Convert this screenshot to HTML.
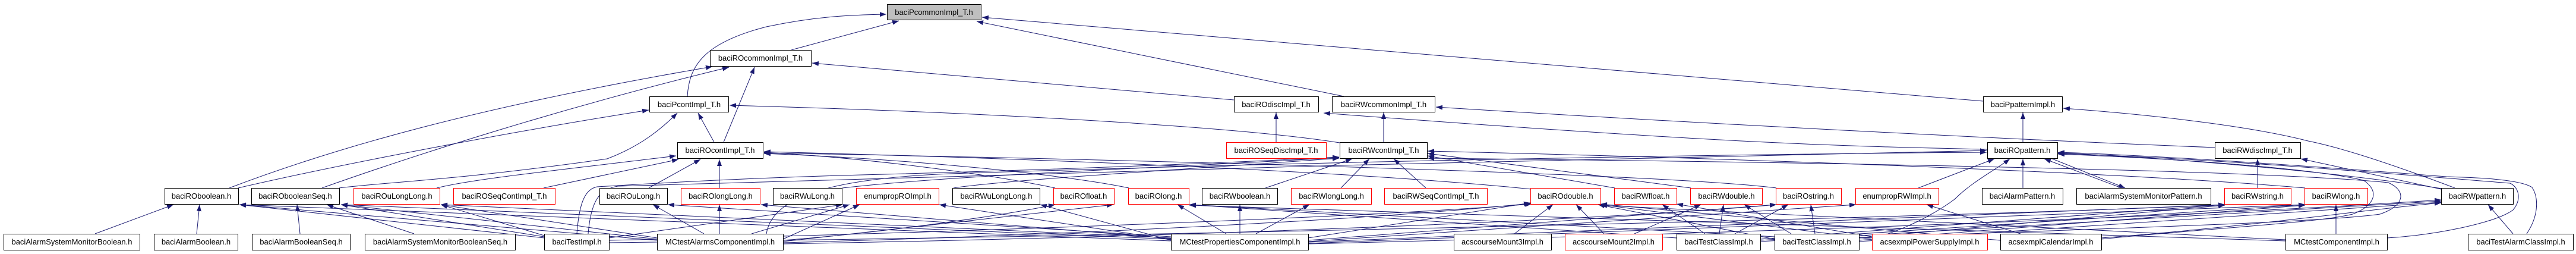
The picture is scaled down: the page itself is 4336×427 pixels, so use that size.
<!DOCTYPE html>
<html><head><meta charset="utf-8"><style>
html,body{margin:0;padding:0;background:#fff;}
svg{display:block;}
.e{fill:none;stroke:#191970;stroke-width:1;marker-end:url(#ah);}
.n{fill:#fff;stroke:#000;stroke-width:1;}
.r{fill:#fff;stroke:#ff0000;stroke-width:1;}
.g{fill:#bfbfbf;stroke:#000;stroke-width:1;}
text{font-family:"Liberation Sans",Arial,sans-serif;font-size:13px;fill:#000;text-anchor:middle;}
</style></head><body>
<svg width="4336" height="427" viewBox="0 0 4336 427" xmlns="http://www.w3.org/2000/svg">
<defs>
<marker id="ah" viewBox="0 0 11 8" refX="11" refY="4" markerWidth="11" markerHeight="8" markerUnits="userSpaceOnUse" orient="auto"><path d="M0,0L11,4L0,8z" fill="#191970"/></marker>
</defs>
<rect width="4336" height="427" fill="#fff"/>
<g>
<!-- upper edges -->
<path class="e" d="M1157,162 C1160,110 1185,72 1290,45 C1370,28 1430,25 1492,24"/>
<path class="e" d="M1332,84 L1513,35"/>
<path class="e" d="M3338,170 L1653,29"/>
<path class="e" d="M2262,162 L1644,36"/>
<path class="e" d="M386,316 C560,250 800,180 1199,112"/>
<path class="e" d="M542,316 C700,260 950,180 1227,113"/>
<path class="e" d="M1218,239 L1270,113"/>
<path class="e" d="M2077,168 L1367,106"/>
<path class="e" d="M401,316 C600,270 900,215 1092,185"/>
<path class="e" d="M571,316 C650,306 760,304 1022,267 C1080,245 1115,215 1140,190"/>
<path class="e" d="M1202,239 L1175,190"/>
<path class="e" d="M2255,240 C2100,215 1700,190 1228,177"/>
<path class="e" d="M2148,239 L2148,189"/>
<path class="e" d="M2329,239 L2329,189"/>
<path class="e" d="M3728,248 C3400,235 2900,210 2417,180"/>
<path class="e" d="M3405,239 L3405,189"/>
<path class="e" d="M4132,316 C4050,285 3950,250 3885,237 C3800,215 3650,195 3473,182"/>
<path class="e" d="M3345,251 C3100,246 2900,241 2228,190"/>
<!-- row3/row4 -->
<path class="e" d="M735,316 C800,300 950,285 1138,262"/>
<path class="e" d="M915,316 L1142,268"/>
<path class="e" d="M1092,316 L1179,268"/>
<path class="e" d="M1211,316 L1211,268"/>
<path class="e" d="M1776,316 C1650,290 1450,265 1286,256"/>
<path class="e" d="M1900,316 C1800,295 1550,268 1286,258"/>
<path class="e" d="M2578,318 C2300,290 1800,268 1286,255"/>
<path class="e" d="M2990,316 C2800,292 1900,268 1286,257"/>
<path class="e" d="M1418,316 C1600,295 1900,285 2254,265"/>
<path class="e" d="M1605,316 C1700,302 1950,288 2254,266"/>
<path class="e" d="M971,393 C975,340 985,318 1005,314 C1150,305 1300,298 1450,294 C1800,285 2100,272 2254,264"/>
<path class="e" d="M990,393 C995,335 1010,318 1040,313 C1400,300 2800,262 3344,253"/>
<path class="e" d="M1290,393 C1300,330 1400,300 1600,292 C2200,272 2900,259 3344,256"/>
<path class="e" d="M2130,316 L2276,267"/>
<path class="e" d="M2257,316 L2305,267"/>
<path class="e" d="M2400,316 L2346,267"/>
<path class="e" d="M2718,316 L2403,262"/>
<path class="e" d="M2846,316 L2403,258"/>
<path class="e" d="M3880,316 C3600,292 3000,268 2403,254"/>
<path class="e" d="M3229,316 L3357,267"/>
<path class="e" d="M3405,316 L3405,267"/>
<path class="e" d="M3571,316 L3441,267"/>
<path class="e" d="M3452,266 L3577,316"/>
<path class="e" d="M3800,316 L3800,267"/>
<path class="e" d="M4109,318 L3873,267"/>
<path class="e" d="M4110,317 C3950,292 3700,268 3464,257"/>
<path class="e" d="M4253,393 C4275,360 4272,330 4262,315 C4240,300 4150,298 4118,297 C3900,280 3650,262 3464,256"/>
<path class="e" d="M4018,400 C4100,395 4200,375 4230,353 C4245,335 4240,315 4225,308 C4000,290 3700,265 3464,258"/>
<path class="e" d="M3537,402 C3700,385 3900,375 3960,360 C4000,345 4005,320 3978,303 C3900,285 3700,268 3464,259"/>
<path class="e" d="M3129,400 C3500,385 3900,375 4006,360 C4050,345 4050,320 4020,307 C3800,285 3000,272 2403,266"/>
<!-- row4/row5 -->
<path class="e" d="M160,393 L292,344"/>
<path class="e" d="M331,393 L336,344"/>
<path class="e" d="M505,393 L500,344"/>
<path class="e" d="M697,393 L550,344"/>
<path class="e" d="M916,400 L403,344"/>
<path class="e" d="M1106,404 L403,344"/>
<path class="e" d="M1971,405 L403,344"/>
<path class="e" d="M916,398 L574,344"/>
<path class="e" d="M1106,402 L574,344"/>
<path class="e" d="M1971,402 L574,344"/>
<path class="e" d="M916,396 L742,344"/>
<path class="e" d="M1106,400 L742,344"/>
<path class="e" d="M1971,400 L742,344"/>
<path class="e" d="M1185,393 L1099,344"/>
<path class="e" d="M1971,398 L1124,344"/>
<path class="e" d="M1211,393 L1211,344"/>
<path class="e" d="M1971,401 L1281,344"/>
<path class="e" d="M1025,400 L1418,344"/>
<path class="e" d="M1265,393 L1430,344"/>
<path class="e" d="M1318,402 L1447,344"/>
<path class="e" d="M1971,403 L1581,344"/>
<path class="e" d="M1971,404 L1751,344"/>
<path class="e" d="M1318,404 C1500,390 1700,360 1776,344"/>
<path class="e" d="M1318,406 L1874,344"/>
<path class="e" d="M2064,393 L1982,344"/>
<path class="e" d="M2087,393 L2087,344"/>
<path class="e" d="M2114,393 L2204,344"/>
<path class="e" d="M2822,400 L2002,344"/>
<path class="e" d="M2987,398 L2002,344"/>
<path class="e" d="M2202,400 L2576,341"/>
<path class="e" d="M1318,408 C1800,395 2300,370 2576,342"/>
<path class="e" d="M1025,404 C1600,392 2300,365 2578,343"/>
<path class="e" d="M2549,393 L2614,344"/>
<path class="e" d="M2700,393 L2653,344"/>
<path class="e" d="M2751,393 L2863,344"/>
<path class="e" d="M2870,393 L2798,344"/>
<path class="e" d="M2894,393 L2901,344"/>
<path class="e" d="M2920,393 L3010,344"/>
<path class="e" d="M3015,393 L2936,344"/>
<path class="e" d="M3055,393 L3048,344"/>
<path class="e" d="M3401,393 L3243,344"/>
<path class="e" d="M2987,402 L2690,344"/>
<path class="e" d="M3151,402 L2694,344"/>
<path class="e" d="M3367,404 L2694,343"/>
<path class="e" d="M3151,398 L2822,343"/>
<path class="e" d="M2202,404 L2990,344"/>
<path class="e" d="M1318,410 C2000,398 2700,370 2990,344"/>
<path class="e" d="M2202,406 L3124,344"/>
<path class="e" d="M2202,407 L3745,344"/>
<path class="e" d="M2963,402 L3745,344"/>
<path class="e" d="M3129,400 L3745,345"/>
<path class="e" d="M1025,408 C2000,396 3300,365 3745,344"/>
<path class="e" d="M2202,409 L3880,344"/>
<path class="e" d="M2963,404 L3880,344"/>
<path class="e" d="M3129,404 L3880,345"/>
<path class="e" d="M3932,393 L3932,344"/>
<path class="e" d="M2202,410 C2800,395 3600,370 4109,336"/>
<path class="e" d="M2963,406 L4109,338"/>
<path class="e" d="M3129,406 L4109,340"/>
<path class="e" d="M3537,400 C3800,380 4000,350 4109,341"/>
<path class="e" d="M4230,393 L4188,344"/>
<path class="e" d="M3847,403 L2694,345"/>
<path class="e" d="M3847,405 C3500,395 3000,375 2002,345"/>
<path class="e" d="M3178,393 C3230,375 3270,350 3290,335 C3320,305 3360,285 3383,267"/>
</g>
<g>
<!-- row0 -->
<rect class="g" x="1493.5" y="7.5" width="158" height="26"/><text x="1572" y="25">baciPcommonImpl_T.h</text>
<!-- row1 -->
<rect class="n" x="1195.5" y="84.5" width="170" height="27"/><text x="1280" y="102">baciROcommonImpl_T.h</text>
<!-- row2 -->
<rect class="n" x="1093.5" y="162.5" width="133" height="26"/><text x="1160" y="180">baciPcontImpl_T.h</text>
<rect class="n" x="2077.5" y="162.5" width="142" height="26"/><text x="2148" y="180">baciROdiscImpl_T.h</text>
<rect class="n" x="2242.5" y="162.5" width="173" height="26"/><text x="2329" y="180">baciRWcommonImpl_T.h</text>
<rect class="n" x="3338.5" y="162.5" width="133" height="26"/><text x="3405" y="180">baciPpatternImpl.h</text>
<!-- row3 -->
<rect class="n" x="1140.5" y="239.5" width="144" height="27"/><text x="1212" y="257">baciROcontImpl_T.h</text>
<rect class="r" x="2064.5" y="239.5" width="168" height="27"/><text x="2148" y="257">baciROSeqDiscImpl_T.h</text>
<rect class="n" x="2255.5" y="239.5" width="147" height="27"/><text x="2329" y="257">baciRWcontImpl_T.h</text>
<rect class="n" x="3345.5" y="239.5" width="118" height="27"/><text x="3404" y="257">baciROpattern.h</text>
<rect class="n" x="3728.5" y="239.5" width="144" height="27"/><text x="3800" y="257">baciRWdiscImpl_T.h</text>
<!-- row4 -->
<rect class="n" x="277.5" y="316.5" width="124" height="27"/><text x="339" y="334">baciROboolean.h</text>
<rect class="n" x="423.5" y="316.5" width="148" height="27"/><text x="497" y="334">baciRObooleanSeq.h</text>
<rect class="r" x="595.5" y="316.5" width="145" height="27"/><text x="668" y="334">baciROuLongLong.h</text>
<rect class="r" x="763.5" y="316.5" width="171" height="27"/><text x="849" y="334">baciROSeqContImpl_T.h</text>
<rect class="n" x="1009.5" y="316.5" width="114" height="27"/><text x="1066" y="334">baciROuLong.h</text>
<rect class="r" x="1146.5" y="316.5" width="133" height="27"/><text x="1213" y="334">baciROlongLong.h</text>
<rect class="n" x="1301.5" y="316.5" width="116" height="27"/><text x="1359" y="334">baciRWuLong.h</text>
<rect class="r" x="1441.5" y="316.5" width="139" height="27"/><text x="1511" y="334">enumpropROImpl.h</text>
<rect class="n" x="1603.5" y="316.5" width="147" height="27"/><text x="1677" y="334">baciRWuLongLong.h</text>
<rect class="r" x="1773.5" y="316.5" width="102" height="27"/><text x="1824" y="334">baciROfloat.h</text>
<rect class="r" x="1899.5" y="316.5" width="102" height="27"/><text x="1950" y="334">baciROlong.h</text>
<rect class="n" x="2023.5" y="316.5" width="127" height="27"/><text x="2087" y="334">baciRWboolean.h</text>
<rect class="r" x="2173.5" y="316.5" width="135" height="27"/><text x="2241" y="334">baciRWlongLong.h</text>
<rect class="r" x="2330.5" y="316.5" width="173" height="27"/><text x="2417" y="334">baciRWSeqContImpl_T.h</text>
<rect class="r" x="2576.5" y="316.5" width="118" height="27"/><text x="2635" y="334">baciROdouble.h</text>
<rect class="r" x="2717.5" y="316.5" width="105" height="27"/><text x="2770" y="334">baciRWfloat.h</text>
<rect class="r" x="2845.5" y="316.5" width="121" height="27"/><text x="2906" y="334">baciRWdouble.h</text>
<rect class="r" x="2989.5" y="316.5" width="110" height="27"/><text x="3044" y="334">baciROstring.h</text>
<rect class="r" x="3123.5" y="316.5" width="140" height="27"/><text x="3193" y="334">enumpropRWImpl.h</text>
<rect class="n" x="3336.5" y="316.5" width="136" height="27"/><text x="3404" y="334">baciAlarmPattern.h</text>
<rect class="n" x="3495.5" y="316.5" width="226" height="27"/><text x="3608" y="334">baciAlarmSystemMonitorPattern.h</text>
<rect class="r" x="3744.5" y="316.5" width="112" height="27"/><text x="3800" y="334">baciRWstring.h</text>
<rect class="r" x="3879.5" y="316.5" width="106" height="27"/><text x="3932" y="334">baciRWlong.h</text>
<rect class="n" x="4109.5" y="316.5" width="121" height="27"/><text x="4170" y="334">baciRWpattern.h</text>
<!-- row5 -->
<rect class="n" x="6.5" y="393.5" width="229" height="27"/><text x="121" y="411">baciAlarmSystemMonitorBoolean.h</text>
<rect class="n" x="259.5" y="393.5" width="141" height="27"/><text x="330" y="411">baciAlarmBoolean.h</text>
<rect class="n" x="424.5" y="393.5" width="165" height="27"/><text x="507" y="411">baciAlarmBooleanSeq.h</text>
<rect class="n" x="614.5" y="393.5" width="253" height="27"/><text x="741" y="411">baciAlarmSystemMonitorBooleanSeq.h</text>
<rect class="n" x="916.5" y="393.5" width="109" height="27"/><text x="971" y="411">baciTestImpl.h</text>
<rect class="n" x="1106.5" y="393.5" width="212" height="27"/><text x="1212" y="411">MCtestAlarmsComponentImpl.h</text>
<rect class="n" x="1971.5" y="393.5" width="231" height="27"/><text x="2087" y="411">MCtestPropertiesComponentImpl.h</text>
<rect class="n" x="2447.5" y="393.5" width="164" height="27"/><text x="2529" y="411">acscourseMount3Impl.h</text>
<rect class="r" x="2634.5" y="393.5" width="164" height="27"/><text x="2716" y="411">acscourseMount2Impl.h</text>
<rect class="n" x="2822.5" y="393.5" width="141" height="27"/><text x="2893" y="411">baciTestClassImpl.h</text>
<rect class="n" x="2987.5" y="393.5" width="142" height="27"/><text x="3058" y="411">baciTestClassImpl.h</text>
<rect class="r" x="3151.5" y="393.5" width="194" height="27"/><text x="3248" y="411">acsexmplPowerSupplyImpl.h</text>
<rect class="n" x="3367.5" y="393.5" width="170" height="27"/><text x="3452" y="411">acsexmplCalendarImpl.h</text>
<rect class="n" x="3847.5" y="393.5" width="171" height="27"/><text x="3933" y="411">MCtestComponentImpl.h</text>
<rect class="n" x="4154.5" y="393.5" width="177" height="27"/><text x="4243" y="411">baciTestAlarmClassImpl.h</text>
</g>
</svg>
</body></html>
